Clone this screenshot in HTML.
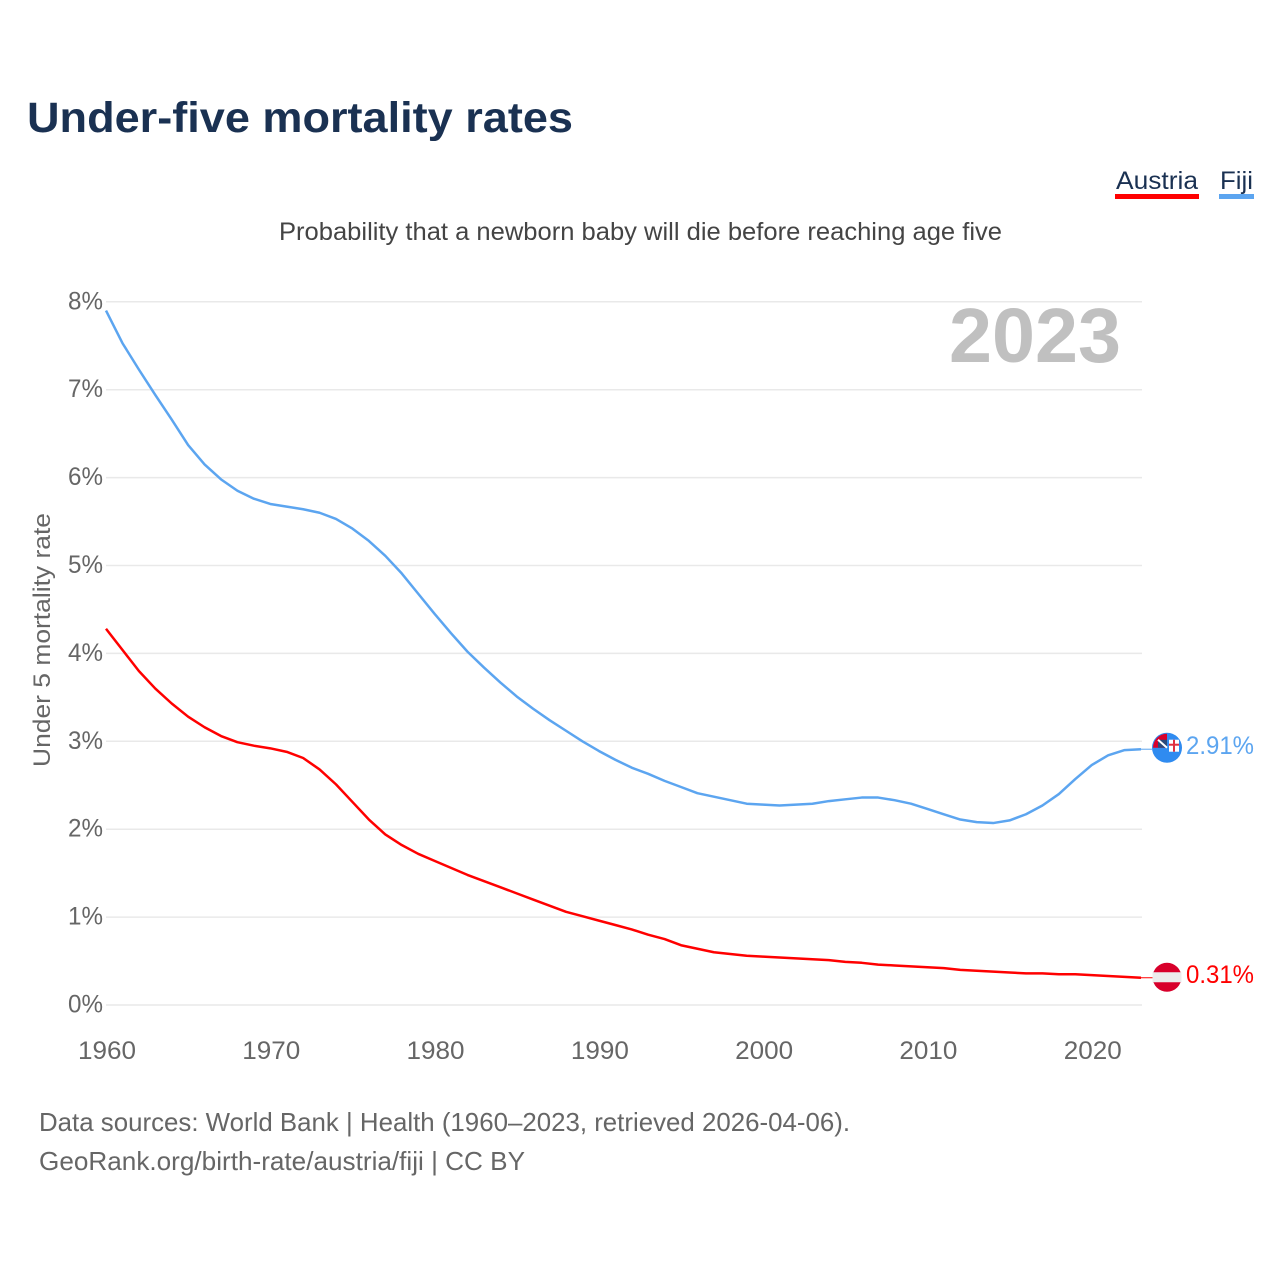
<!DOCTYPE html>
<html lang="en">
<head>
<meta charset="utf-8">
<title>Under-five mortality rates</title>
<style>
html,body{margin:0;padding:0;background:#fff;}
svg{display:block;}
text{font-family:"Liberation Sans",sans-serif;}
</style>
</head>
<body>
<svg id="chart" xmlns="http://www.w3.org/2000/svg" width="1280" height="1280" viewBox="0 0 1280 1280">
  <rect x="0" y="0" width="1280" height="1280" fill="#fff"/>
  <text x="27" y="132" font-size="43" font-weight="700" fill="#1a3152" textLength="546" lengthAdjust="spacingAndGlyphs">Under-five mortality rates</text>
  <text x="279" y="240" font-size="25" fill="#444" textLength="723" lengthAdjust="spacingAndGlyphs">Probability that a newborn baby will die before reaching age five</text>
  <g>
    <text x="1116" y="189" font-size="25" fill="#1a3152" textLength="82" lengthAdjust="spacingAndGlyphs">Austria</text>
    <rect x="1115" y="194" width="84" height="5" fill="#ff0000"/>
  </g>
  <g>
    <text x="1220" y="189" font-size="25" fill="#1a3152" textLength="33" lengthAdjust="spacingAndGlyphs">Fiji</text>
    <rect x="1219" y="194" width="35" height="5" fill="#5ca5f0"/>
  </g>
  <text transform="translate(50,767) rotate(-90)" font-size="24" fill="#666" textLength="254" lengthAdjust="spacingAndGlyphs">Under 5 mortality rate</text>
  <g id="grid"></g>
  <g id="yticks"></g>
  <g id="xticks"></g>
  <text x="949" y="362" font-size="77" font-weight="700" fill="#c0c0c0" textLength="172" lengthAdjust="spacingAndGlyphs">2023</text>
  <g id="series"></g>
  <g id="ends"></g>
  <text x="39" y="1131" font-size="26" fill="#666" textLength="811" lengthAdjust="spacingAndGlyphs">Data sources: World Bank | Health (1960–2023, retrieved 2026-04-06).</text>
  <text x="39" y="1170" font-size="26" fill="#666" textLength="486" lengthAdjust="spacingAndGlyphs">GeoRank.org/birth-rate/austria/fiji | CC BY</text>
</svg>
<script>
const startYear = 1960;
const yTickValues = [0, 1, 2, 3, 4, 5, 6, 7, 8];
const yTickLabels = ["0%", "1%", "2%", "3%", "4%", "5%", "6%", "7%", "8%"];
const xTickYears = [1960, 1970, 1980, 1990, 2000, 2010, 2020];
const fijiValues = [7.90,7.53,7.23,6.94,6.66,6.37,6.15,5.98,5.85,5.76,5.70,5.67,5.64,5.60,5.53,5.42,5.28,5.11,4.91,4.68,4.45,4.23,4.02,3.84,3.67,3.51,3.37,3.24,3.12,3.00,2.89,2.79,2.70,2.63,2.55,2.48,2.41,2.37,2.33,2.29,2.28,2.27,2.28,2.29,2.32,2.34,2.36,2.36,2.33,2.29,2.23,2.17,2.11,2.08,2.07,2.10,2.17,2.27,2.40,2.57,2.73,2.84,2.90,2.91];
const austriaValues = [4.28,4.04,3.80,3.60,3.43,3.28,3.16,3.06,2.99,2.95,2.92,2.88,2.81,2.68,2.51,2.31,2.11,1.94,1.82,1.72,1.64,1.56,1.48,1.41,1.34,1.27,1.20,1.13,1.06,1.01,0.96,0.91,0.86,0.80,0.75,0.68,0.64,0.60,0.58,0.56,0.55,0.54,0.53,0.52,0.51,0.49,0.48,0.46,0.45,0.44,0.43,0.42,0.40,0.39,0.38,0.37,0.36,0.36,0.35,0.35,0.34,0.33,0.32,0.31];
const fijiLabel = "2.91%";
const austriaLabel = "0.31%";

const NS = "http://www.w3.org/2000/svg";
function xScale(year) { return 106 + (year - 1960) * (1141 - 106) / 63; }
function yScale(v) { return 1005 - v * 87.9; }
function make(tag, attrs, parent, content) {
  const el = document.createElementNS(NS, tag);
  for (const k in attrs) el.setAttribute(k, attrs[k]);
  if (content !== undefined) el.textContent = content;
  parent.appendChild(el);
  return el;
}
const grid = document.getElementById("grid");
const yticks = document.getElementById("yticks");
const xticks = document.getElementById("xticks");
const series = document.getElementById("series");
const ends = document.getElementById("ends");

yTickValues.forEach(function (v, i) {
  const line = make("line", {x1: 106, x2: 1142, y1: yScale(v), y2: yScale(v), stroke: "#e9e9e9", "stroke-width": 1.5}, grid);
  
  
  const label = make("text", {x: 103, y: yScale(v) + 7.5, "font-size": 25, fill: "#666", "text-anchor": "end", textLength: 35, lengthAdjust: "spacingAndGlyphs"}, yticks, yTickLabels[i]);
  
  
});

xTickYears.forEach(function (year) {
  const label = make("text", {x: xScale(year) + 1, y: 1059, "font-size": 25, fill: "#666", "text-anchor": "middle", textLength: 58, lengthAdjust: "spacingAndGlyphs"}, xticks, String(year));
  
  
});

function points(values) {
  return values.map(function (v, i) { return xScale(startYear + i).toFixed(2) + "," + yScale(v).toFixed(2); }).join(" ");
}
const austriaLine = make("polyline", {points: points(austriaValues), fill: "none", stroke: "#ff0000", "stroke-width": 2.5, "stroke-linejoin": "round"}, series);


const fijiLine = make("polyline", {points: points(fijiValues), fill: "none", stroke: "#5ca5f0", "stroke-width": 2.5, "stroke-linejoin": "round"}, series);



const endX = xScale(2023);
const lastAustria = austriaValues[austriaValues.length - 1];
const lastFiji = fijiValues[fijiValues.length - 1];
const ay = yScale(lastAustria);
const fy = yScale(lastFiji);

/* Austria marker */
const austriaMarker = make("g", {}, ends);


make("line", {x1: endX, x2: 1153, y1: ay, y2: ay, stroke: "#ff0000", "stroke-width": 1}, austriaMarker);
make("circle", {cx: 1167, cy: ay - 0.5, r: 14.5, fill: "#d8002b"}, austriaMarker);
make("rect", {x: 1152.5, y: ay - 5.5, width: 29, height: 10, fill: "#ececec"}, austriaMarker);

/* Fiji marker */
const fijiMarker = make("g", {}, ends);


const fc = fy - 1.5;
make("line", {x1: endX, x2: 1152, y1: fy, y2: fy, stroke: "#5ca5f0", "stroke-width": 1}, fijiMarker);
make("circle", {cx: 1167, cy: fc, r: 15, fill: "#2f8bf0"}, fijiMarker);
make("path", {d: "M1167 " + (fc - 14) + " A14 14 0 0 0 1153 " + fc + " L1167 " + fc + " Z", fill: "#d8002b"}, fijiMarker);
make("rect", {x: 1158, y: fc - 8, width: 9, height: 8, fill: "#2b4a7c"}, fijiMarker);
make("path", {d: "M1158 " + (fc - 8) + " L1167 " + fc, stroke: "#fff", "stroke-width": 2, fill: "none"}, fijiMarker);
make("rect", {x: 1169, y: fc - 8, width: 10, height: 12, fill: "#fff"}, fijiMarker);
make("rect", {x: 1173, y: fc - 8, width: 2, height: 12, fill: "#e03040"}, fijiMarker);
make("rect", {x: 1169, y: fc - 4, width: 10, height: 2, fill: "#e03040"}, fijiMarker);

const fijiValueLabel = make("text", {x: 1186, y: fy + 5, "font-size": 25, fill: "#5ca5f0", textLength: 68, lengthAdjust: "spacingAndGlyphs"}, ends, fijiLabel);


const austriaValueLabel = make("text", {x: 1186, y: ay + 5, "font-size": 25, fill: "#ff0000", textLength: 68, lengthAdjust: "spacingAndGlyphs"}, ends, austriaLabel);


</script>
</body>
</html>
